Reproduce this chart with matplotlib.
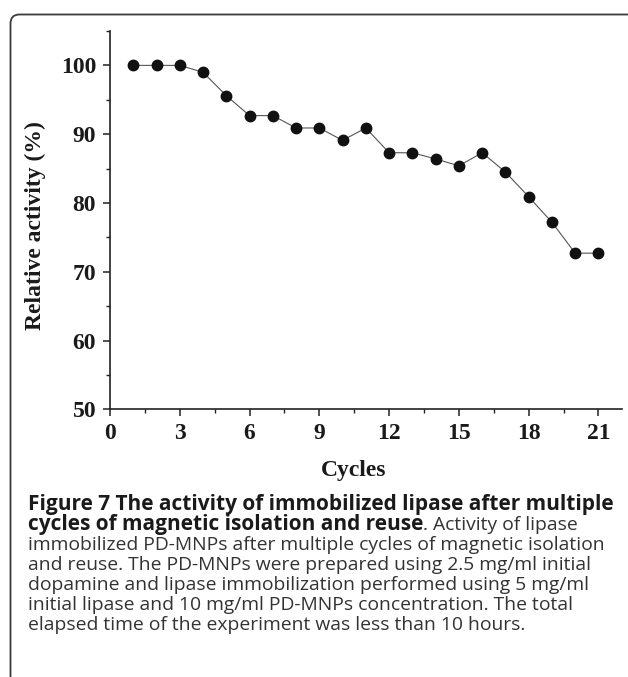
import matplotlib
matplotlib.use("Agg")
import matplotlib.pyplot as plt
from matplotlib.patches import FancyBboxPatch
from matplotlib.transforms import IdentityTransform
from matplotlib.ticker import MultipleLocator

# data
cycles = list(range(1, 22))
activity = [100, 100, 100, 99.0, 95.6, 92.7, 92.7, 90.9, 90.9, 89.1, 90.9,
            87.3, 87.3, 86.4, 85.4, 87.3, 84.5, 80.9, 77.2, 72.7, 72.7]
x_ticks = [0, 3, 6, 9, 12, 15, 18, 21]
y_ticks = [50, 60, 70, 80, 90, 100]

caption_bold = ["Figure 7 The activity of immobilized lipase after multiple",
                "cycles of magnetic isolation and reuse"]
caption_rest = [". Activity of lipase",
                "immobilized PD-MNPs after multiple cycles of magnetic isolation",
                "and reuse. The PD-MNPs were prepared using 2.5 mg/ml initial",
                "dopamine and lipase immobilization performed using 5 mg/ml",
                "initial lipase and 10 mg/ml PD-MNPs concentration. The total",
                "elapsed time of the experiment was less than 10 hours."]

W, H = 628, 677
fig = plt.figure(figsize=(W / 100, H / 100), dpi=100)

# rounded frame that runs off the right and bottom edges
frame = FancyBboxPatch((10.5, -30), 660, H - 14.5 + 30,
                       boxstyle="round,pad=0,rounding_size=9",
                       transform=IdentityTransform(), fill=False,
                       lw=1.3, ec="#3a3a3a")
fig.add_artist(frame)

ax = fig.add_axes([110 / W, 1 - 409.3 / H, 511.7 / W, 378.3 / H])
ax.plot(cycles, activity, color="#555555", lw=0.8, marker="o", ms=7.5,
        mfc="#111111", mec="#111111", clip_on=False, zorder=3)

ax.set_xlim(0, 22)
ax.set_ylim(50, 105)
ax.set_xticks(x_ticks)
ax.set_yticks(y_ticks)
ax.xaxis.set_minor_locator(MultipleLocator(1.5))
ax.yaxis.set_minor_locator(MultipleLocator(5))
for s in ["top", "right"]:
    ax.spines[s].set_visible(False)
for s in ["left", "bottom"]:
    ax.spines[s].set_linewidth(1.2)
    ax.spines[s].set_color("#222222")

serif = {"family": "Liberation Serif", "weight": "bold", "size": 17}
ax.tick_params(which="major", direction="out", length=5, width=1.1, colors="#222222", pad=5)
ax.tick_params(which="minor", direction="out", length=3, width=1.0, colors="#222222")
for lab in ax.get_xticklabels() + ax.get_yticklabels():
    lab.set_fontproperties(matplotlib.font_manager.FontProperties(**serif))
    lab.set_color("#1a1a1a")

ax.set_xlabel("Cycles", fontdict=serif, color="#1a1a1a")
ax.set_ylabel("Relative activity (%)", fontdict=serif, color="#1a1a1a")
ax.xaxis.set_label_coords(0.477, -0.135)
ax.yaxis.set_label_coords(-0.125, 0.485)

# caption below the chart
x0 = 28 / W
base = 510
step = 20
bold_kw = dict(family="Open Sans", weight="bold", size=15, color="#1a1a1a", va="baseline")
reg_kw = dict(family="Open Sans", size=13.9, color="#333333", va="baseline")

fig.text(x0, 1 - base / H, caption_bold[0], **bold_kw)
t2 = fig.text(x0, 1 - (base + step) / H, caption_bold[1], **bold_kw)
r = fig.canvas.get_renderer()
bb = t2.get_window_extent(renderer=r)
fig.text(bb.x1 / W, 1 - (base + step) / H, caption_rest[0], **reg_kw)
for i, line in enumerate(caption_rest[1:]):
    fig.text(x0, 1 - (base + step * (i + 2)) / H, line, **reg_kw)

fig.savefig("out.png", dpi=100)
